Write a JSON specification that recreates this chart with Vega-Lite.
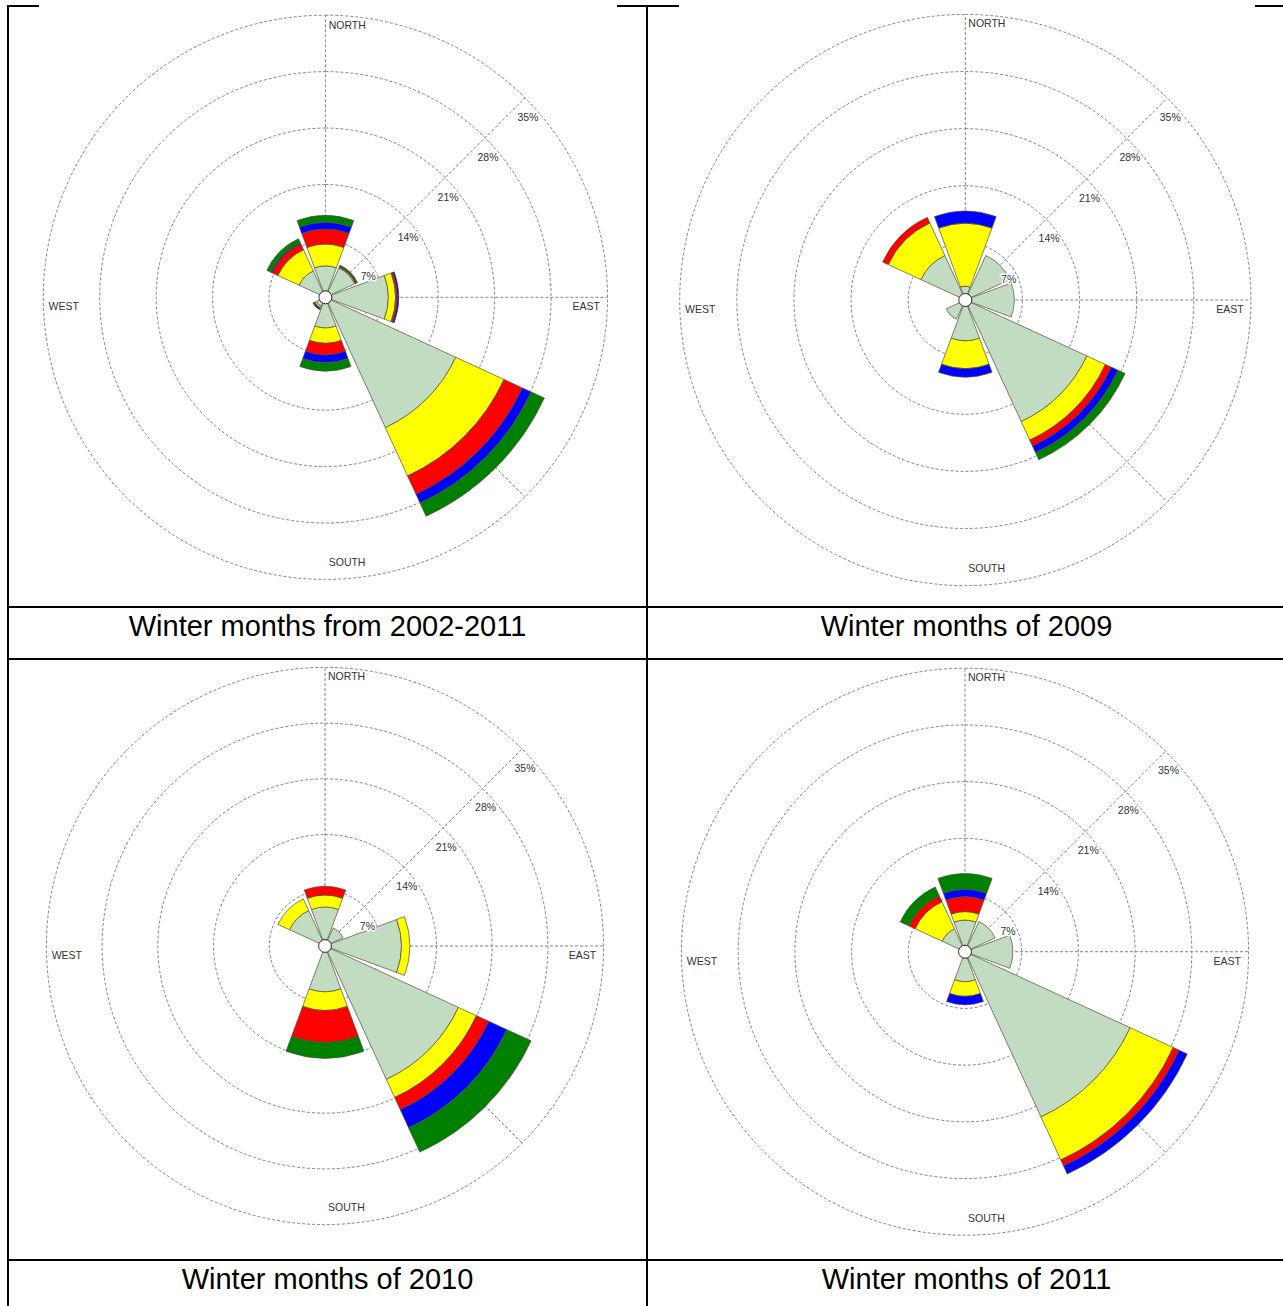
{
"$schema":"https://vega.github.io/schema/vega-lite/v6.json",
"background":"white",
"padding":{"left":7,"top":5,"right":0,"bottom":0},
"bounds":"flush",
"spacing":0,
"columns":2,
"config":{"font":"Liberation Sans","view":{"stroke":"black","strokeWidth":2}},
"datasets":{
"dirs":[{"dir":0,"a0":-20.3,"a1":20.3},{"dir":45,"a0":24.7,"a1":65.3},{"dir":90,"a0":69.7,"a1":110.3},{"dir":135,"a0":114.7,"a1":155.3},{"dir":180,"a0":159.7,"a1":200.3},{"dir":225,"a0":204.7,"a1":245.3},{"dir":270,"a0":249.7,"a1":290.3},{"dir":315,"a0":294.7,"a1":335.3}],
"rings":[{"ring":7,"label":"7%"},{"ring":14,"label":"14%"},{"ring":21,"label":"21%"},{"ring":28,"label":"28%"},{"ring":35,"label":"35%"}],
"spokes":[{"x1":-35,"y1":0,"x2":35,"y2":0},{"x1":0,"y1":-35,"x2":0,"y2":35},{"x1":-24.75,"y1":-24.75,"x2":24.75,"y2":24.75},{"x1":-24.75,"y1":24.75,"x2":24.75,"y2":-24.75}],
"petals":[
{"rose":1,"dir":0,"spd":"s1","r0":0.8,"r1":3.9},{"rose":1,"dir":0,"spd":"s2","r0":3.9,"r1":6.6},{"rose":1,"dir":0,"spd":"s3","r0":6.6,"r1":8.45},{"rose":1,"dir":0,"spd":"s4","r0":8.45,"r1":9.3},{"rose":1,"dir":0,"spd":"s5","r0":9.3,"r1":10.15},
{"rose":1,"dir":45,"spd":"s1","r0":0.8,"r1":4.0},{"rose":1,"dir":45,"spd":"s2","r0":4.0,"r1":4.12},{"rose":1,"dir":45,"spd":"s3","r0":4.12,"r1":4.22},{"rose":1,"dir":45,"spd":"s4","r0":4.22,"r1":4.3},{"rose":1,"dir":45,"spd":"s5","r0":4.3,"r1":4.38},
{"rose":1,"dir":90,"spd":"s1","r0":0.8,"r1":7.8},{"rose":1,"dir":90,"spd":"s2","r0":7.8,"r1":8.7},{"rose":1,"dir":90,"spd":"s3","r0":8.7,"r1":8.9},{"rose":1,"dir":90,"spd":"s4","r0":8.9,"r1":9.1},
{"rose":1,"dir":135,"spd":"s1","r0":0.8,"r1":17.8},{"rose":1,"dir":135,"spd":"s2","r0":17.8,"r1":24.4},{"rose":1,"dir":135,"spd":"s3","r0":24.4,"r1":26.9},{"rose":1,"dir":135,"spd":"s4","r0":26.9,"r1":28.1},{"rose":1,"dir":135,"spd":"s5","r0":28.1,"r1":29.9},
{"rose":1,"dir":180,"spd":"s1","r0":0.8,"r1":3.8},{"rose":1,"dir":180,"spd":"s2","r0":3.8,"r1":5.7},{"rose":1,"dir":180,"spd":"s3","r0":5.7,"r1":7.15},{"rose":1,"dir":180,"spd":"s4","r0":7.15,"r1":8.1},{"rose":1,"dir":180,"spd":"s5","r0":8.1,"r1":9.15},
{"rose":1,"dir":225,"spd":"s1","r0":0.8,"r1":1.25},{"rose":1,"dir":225,"spd":"s2","r0":1.25,"r1":1.45},{"rose":1,"dir":225,"spd":"s3","r0":1.45,"r1":1.55},{"rose":1,"dir":225,"spd":"s4","r0":1.55,"r1":1.7},
{"rose":1,"dir":315,"spd":"s1","r0":0.8,"r1":3.6},{"rose":1,"dir":315,"spd":"s2","r0":3.6,"r1":6.5},{"rose":1,"dir":315,"spd":"s3","r0":6.5,"r1":7.3},{"rose":1,"dir":315,"spd":"s4","r0":7.3,"r1":7.45},{"rose":1,"dir":315,"spd":"s5","r0":7.45,"r1":8.0},
{"rose":2,"dir":0,"spd":"s1","r0":0.8,"r1":1.7},{"rose":2,"dir":0,"spd":"s2","r0":1.7,"r1":9.4},{"rose":2,"dir":0,"spd":"s4","r0":9.4,"r1":10.9},
{"rose":2,"dir":45,"spd":"s1","r0":0.8,"r1":6.0},
{"rose":2,"dir":90,"spd":"s1","r0":0.8,"r1":6.0},
{"rose":2,"dir":135,"spd":"s1","r0":0.8,"r1":16.4},{"rose":2,"dir":135,"spd":"s2","r0":16.4,"r1":18.9},{"rose":2,"dir":135,"spd":"s3","r0":18.9,"r1":19.7},{"rose":2,"dir":135,"spd":"s4","r0":19.7,"r1":20.6},{"rose":2,"dir":135,"spd":"s5","r0":20.6,"r1":21.55},
{"rose":2,"dir":180,"spd":"s1","r0":0.8,"r1":5.0},{"rose":2,"dir":180,"spd":"s2","r0":5.0,"r1":8.4},{"rose":2,"dir":180,"spd":"s4","r0":8.4,"r1":9.45},
{"rose":2,"dir":225,"spd":"s1","r0":0.8,"r1":2.6},
{"rose":2,"dir":315,"spd":"s1","r0":0.8,"r1":6.0},{"rose":2,"dir":315,"spd":"s2","r0":6.0,"r1":10.4},{"rose":2,"dir":315,"spd":"s3","r0":10.4,"r1":11.15},
{"rose":3,"dir":0,"spd":"s1","r0":0.8,"r1":4.9},{"rose":3,"dir":0,"spd":"s2","r0":4.9,"r1":6.4},{"rose":3,"dir":0,"spd":"s3","r0":6.4,"r1":7.5},
{"rose":3,"dir":45,"spd":"s1","r0":0.8,"r1":2.5},
{"rose":3,"dir":90,"spd":"s1","r0":0.8,"r1":9.6},{"rose":3,"dir":90,"spd":"s2","r0":9.6,"r1":10.65},
{"rose":3,"dir":135,"spd":"s1","r0":0.8,"r1":18.45},{"rose":3,"dir":135,"spd":"s2","r0":18.45,"r1":20.95},{"rose":3,"dir":135,"spd":"s3","r0":20.95,"r1":22.65},{"rose":3,"dir":135,"spd":"s4","r0":22.65,"r1":25.15},{"rose":3,"dir":135,"spd":"s5","r0":25.15,"r1":28.5},
{"rose":3,"dir":180,"spd":"s1","r0":0.8,"r1":5.75},{"rose":3,"dir":180,"spd":"s2","r0":5.75,"r1":8.1},{"rose":3,"dir":180,"spd":"s3","r0":8.1,"r1":12.1},{"rose":3,"dir":180,"spd":"s5","r0":12.1,"r1":14.1},
{"rose":3,"dir":315,"spd":"s1","r0":0.8,"r1":4.9},{"rose":3,"dir":315,"spd":"s2","r0":4.9,"r1":6.5},
{"rose":4,"dir":0,"spd":"s1","r0":0.8,"r1":3.9},{"rose":4,"dir":0,"spd":"s2","r0":3.9,"r1":4.95},{"rose":4,"dir":0,"spd":"s3","r0":4.95,"r1":6.8},{"rose":4,"dir":0,"spd":"s4","r0":6.8,"r1":7.7},{"rose":4,"dir":0,"spd":"s5","r0":7.7,"r1":9.65},
{"rose":4,"dir":45,"spd":"s1","r0":0.8,"r1":4.1},
{"rose":4,"dir":90,"spd":"s1","r0":0.8,"r1":5.9},
{"rose":4,"dir":135,"spd":"s1","r0":0.8,"r1":22.45},{"rose":4,"dir":135,"spd":"s2","r0":22.45,"r1":28.3},{"rose":4,"dir":135,"spd":"s3","r0":28.3,"r1":29.1},{"rose":4,"dir":135,"spd":"s4","r0":29.1,"r1":30.2},
{"rose":4,"dir":180,"spd":"s1","r0":0.8,"r1":3.7},{"rose":4,"dir":180,"spd":"s2","r0":3.7,"r1":5.5},{"rose":4,"dir":180,"spd":"s4","r0":5.5,"r1":6.55},
{"rose":4,"dir":315,"spd":"s1","r0":0.8,"r1":3.1},{"rose":4,"dir":315,"spd":"s2","r0":3.1,"r1":6.8},{"rose":4,"dir":315,"spd":"s3","r0":6.8,"r1":7.6},{"rose":4,"dir":315,"spd":"s5","r0":7.6,"r1":8.8}
]
},
"concat":[
{"width":639,"height":601,
"view":{"stroke":"black","strokeWidth":2,"strokeDash":[31,578,1871]},
"encoding":{"x":{"datum":0,"type":"quantitative","scale":{"domain":[-39.38,39.9],"nice":false,"zero":false},"axis":null},
"y":{"datum":0,"type":"quantitative","scale":{"domain":[-38.42,36.14],"nice":false,"zero":false},"axis":null}},
"layer":[
{"data":{"name":"rings"},"mark":{"type":"arc","filled":false,"stroke":"#80809a","strokeWidth":1,"strokeDash":[3,2]},
"encoding":{"theta":{"datum":0,"type":"quantitative","scale":{"domain":[0,360]}},"theta2":{"datum":360},"radius":{"field":"ring","type":"quantitative","stack":null,"scale":{"type":"linear","domain":[0,35],"range":[0,282.1],"nice":false,"zero":true}}}},
{"data":{"name":"spokes"},"mark":{"type":"rule","stroke":"#80809a","strokeWidth":1,"strokeDash":[3,2]},
"encoding":{"x":{"field":"x1","type":"quantitative","scale":{"domain":[-39.38,39.9],"nice":false,"zero":false},"axis":null},"y":{"field":"y1","type":"quantitative","scale":{"domain":[-38.42,36.14],"nice":false,"zero":false},"axis":null},"x2":{"field":"x2"},"y2":{"field":"y2"}}},
{"data":{"name":"petals"},"transform":[{"filter":"datum.rose === 1"},{"lookup":"dir","from":{"data":{"name":"dirs"},"key":"dir","fields":["a0","a1"]}}],
"mark":{"type":"arc","stroke":"#4f4f38","strokeWidth":0.7},
"encoding":{"theta":{"field":"a0","type":"quantitative","stack":null,"scale":{"domain":[0,360]}},"theta2":{"field":"a1"},"radius":{"field":"r1","type":"quantitative","stack":null,"scale":{"type":"linear","domain":[0,35],"range":[0,282.1],"nice":false,"zero":true}},"radius2":{"field":"r0"},
"color":{"field":"spd","type":"nominal","scale":{"domain":["s1","s2","s3","s4","s5"],"range":["#c1dcc1","#ffff00","#ff0000","#0000ff","#008000"]},"legend":null}}},
{"data":{"values":[{}]},"mark":{"type":"arc","fill":"white","stroke":"#333333","strokeWidth":1},
"encoding":{"theta":{"datum":0,"type":"quantitative","scale":{"domain":[0,360]}},"theta2":{"datum":360},"radius":{"datum":0.8,"type":"quantitative","scale":{"type":"linear","domain":[0,35],"range":[0,282.1],"nice":false,"zero":true}}}},
{"data":{"name":"rings"},"mark":{"type":"text","dx":3,"dy":20,"fontSize":10.5,"stroke":"white","strokeWidth":3,"strokeJoin":"round"},
"encoding":{"theta":{"datum":45,"type":"quantitative","scale":{"domain":[0,360]}},"radius":{"field":"ring","type":"quantitative","stack":null,"scale":{"type":"linear","domain":[0,35],"range":[0,282.1],"nice":false,"zero":true}},"text":{"field":"label"}}},
{"data":{"name":"rings"},"mark":{"type":"text","dx":3,"dy":20,"fontSize":10.5,"fill":"#333333"},
"encoding":{"theta":{"datum":45,"type":"quantitative","scale":{"domain":[0,360]}},"radius":{"field":"ring","type":"quantitative","stack":null,"scale":{"type":"linear","domain":[0,35],"range":[0,282.1],"nice":false,"zero":true}},"text":{"field":"label"}}},
{"data":{"values":[{"t":"NORTH","d":0}]},"mark":{"type":"text","align":"left","dx":3.3,"dy":10.5,"fontSize":10.5,"fill":"#333333"},
"encoding":{"theta":{"field":"d","type":"quantitative","stack":null,"scale":{"domain":[0,360]}},"radius":{"datum":35,"type":"quantitative","scale":{"type":"linear","domain":[0,35],"range":[0,282.1],"nice":false,"zero":true}},"text":{"field":"t"}}},
{"data":{"values":[{"t":"SOUTH","d":180}]},"mark":{"type":"text","align":"left","dx":3.3,"dy":-16,"fontSize":10.5,"fill":"#333333"},
"encoding":{"theta":{"field":"d","type":"quantitative","stack":null,"scale":{"domain":[0,360]}},"radius":{"datum":35,"type":"quantitative","scale":{"type":"linear","domain":[0,35],"range":[0,282.1],"nice":false,"zero":true}},"text":{"field":"t"}}},
{"data":{"values":[{"t":"WEST","d":270}]},"mark":{"type":"text","align":"left","dx":5.3,"dy":10,"fontSize":10.5,"fill":"#333333"},
"encoding":{"theta":{"field":"d","type":"quantitative","stack":null,"scale":{"domain":[0,360]}},"radius":{"datum":35,"type":"quantitative","scale":{"type":"linear","domain":[0,35],"range":[0,282.1],"nice":false,"zero":true}},"text":{"field":"t"}}},
{"data":{"values":[{"t":"EAST","d":90}]},"mark":{"type":"text","align":"right","dx":-7.5,"dy":10,"fontSize":10.5,"fill":"#333333"},
"encoding":{"theta":{"field":"d","type":"quantitative","stack":null,"scale":{"domain":[0,360]}},"radius":{"datum":35,"type":"quantitative","scale":{"type":"linear","domain":[0,35],"range":[0,282.1],"nice":false,"zero":true}},"text":{"field":"t"}}}
]},
{"width":639,"height":601,
"view":{"stroke":"black","strokeWidth":2,"strokeDash":[32,576,1872]},
"encoding":{"x":{"datum":0,"type":"quantitative","scale":{"domain":[-39.01,39.3],"nice":false,"zero":false},"axis":null},
"y":{"datum":0,"type":"quantitative","scale":{"domain":[-37.62,36.03],"nice":false,"zero":false},"axis":null}},
"layer":[
{"data":{"name":"rings"},"mark":{"type":"arc","filled":false,"stroke":"#80809a","strokeWidth":1,"strokeDash":[3,2]},
"encoding":{"theta":{"datum":0,"type":"quantitative","scale":{"domain":[0,360]}},"theta2":{"datum":360},"radius":{"field":"ring","type":"quantitative","stack":null,"scale":{"type":"linear","domain":[0,35],"range":[0,285.6],"nice":false,"zero":true}}}},
{"data":{"name":"spokes"},"mark":{"type":"rule","stroke":"#80809a","strokeWidth":1,"strokeDash":[3,2]},
"encoding":{"x":{"field":"x1","type":"quantitative","scale":{"domain":[-39.01,39.3],"nice":false,"zero":false},"axis":null},"y":{"field":"y1","type":"quantitative","scale":{"domain":[-37.62,36.03],"nice":false,"zero":false},"axis":null},"x2":{"field":"x2"},"y2":{"field":"y2"}}},
{"data":{"name":"petals"},"transform":[{"filter":"datum.rose === 2"},{"lookup":"dir","from":{"data":{"name":"dirs"},"key":"dir","fields":["a0","a1"]}}],
"mark":{"type":"arc","stroke":"#4f4f38","strokeWidth":0.7},
"encoding":{"theta":{"field":"a0","type":"quantitative","stack":null,"scale":{"domain":[0,360]}},"theta2":{"field":"a1"},"radius":{"field":"r1","type":"quantitative","stack":null,"scale":{"type":"linear","domain":[0,35],"range":[0,285.6],"nice":false,"zero":true}},"radius2":{"field":"r0"},
"color":{"field":"spd","type":"nominal","scale":{"domain":["s1","s2","s3","s4","s5"],"range":["#c1dcc1","#ffff00","#ff0000","#0000ff","#008000"]},"legend":null}}},
{"data":{"values":[{}]},"mark":{"type":"arc","fill":"white","stroke":"#333333","strokeWidth":1},
"encoding":{"theta":{"datum":0,"type":"quantitative","scale":{"domain":[0,360]}},"theta2":{"datum":360},"radius":{"datum":0.8,"type":"quantitative","scale":{"type":"linear","domain":[0,35],"range":[0,285.6],"nice":false,"zero":true}}}},
{"data":{"name":"rings"},"mark":{"type":"text","dx":3,"dy":20,"fontSize":10.5,"stroke":"white","strokeWidth":3,"strokeJoin":"round"},
"encoding":{"theta":{"datum":45,"type":"quantitative","scale":{"domain":[0,360]}},"radius":{"field":"ring","type":"quantitative","stack":null,"scale":{"type":"linear","domain":[0,35],"range":[0,285.6],"nice":false,"zero":true}},"text":{"field":"label"}}},
{"data":{"name":"rings"},"mark":{"type":"text","dx":3,"dy":20,"fontSize":10.5,"fill":"#333333"},
"encoding":{"theta":{"datum":45,"type":"quantitative","scale":{"domain":[0,360]}},"radius":{"field":"ring","type":"quantitative","stack":null,"scale":{"type":"linear","domain":[0,35],"range":[0,285.6],"nice":false,"zero":true}},"text":{"field":"label"}}},
{"data":{"values":[{"t":"NORTH","d":0}]},"mark":{"type":"text","align":"left","dx":3,"dy":10,"fontSize":10.5,"fill":"#333333"},
"encoding":{"theta":{"field":"d","type":"quantitative","stack":null,"scale":{"domain":[0,360]}},"radius":{"datum":35,"type":"quantitative","scale":{"type":"linear","domain":[0,35],"range":[0,285.6],"nice":false,"zero":true}},"text":{"field":"t"}}},
{"data":{"values":[{"t":"SOUTH","d":180}]},"mark":{"type":"text","align":"left","dx":3,"dy":-16.6,"fontSize":10.5,"fill":"#333333"},
"encoding":{"theta":{"field":"d","type":"quantitative","stack":null,"scale":{"domain":[0,360]}},"radius":{"datum":35,"type":"quantitative","scale":{"type":"linear","domain":[0,35],"range":[0,285.6],"nice":false,"zero":true}},"text":{"field":"t"}}},
{"data":{"values":[{"t":"WEST","d":270}]},"mark":{"type":"text","align":"left","dx":5.4,"dy":10.2,"fontSize":10.5,"fill":"#333333"},
"encoding":{"theta":{"field":"d","type":"quantitative","stack":null,"scale":{"domain":[0,360]}},"radius":{"datum":35,"type":"quantitative","scale":{"type":"linear","domain":[0,35],"range":[0,285.6],"nice":false,"zero":true}},"text":{"field":"t"}}},
{"data":{"values":[{"t":"EAST","d":90}]},"mark":{"type":"text","align":"right","dx":-7.3,"dy":10.2,"fontSize":10.5,"fill":"#333333"},
"encoding":{"theta":{"field":"d","type":"quantitative","stack":null,"scale":{"domain":[0,360]}},"radius":{"datum":35,"type":"quantitative","scale":{"type":"linear","domain":[0,35],"range":[0,285.6],"nice":false,"zero":true}},"text":{"field":"t"}}}
]},
{"width":639,"height":52,"data":{"values":[{"caption":"Winter months from 2002-2011"}]},"mark":{"type":"text","fontSize":29,"fill":"black","dy":-6},
"encoding":{"x":{"datum":0,"type":"quantitative","scale":{"domain":[-1,1]},"axis":null},"y":{"datum":0,"type":"quantitative","scale":{"domain":[-1,1]},"axis":null},"text":{"field":"caption","type":"nominal"}}},
{"width":639,"height":52,"data":{"values":[{"caption":"Winter months of 2009"}]},"mark":{"type":"text","fontSize":29,"fill":"black","dy":-6},
"encoding":{"x":{"datum":0,"type":"quantitative","scale":{"domain":[-1,1]},"axis":null},"y":{"datum":0,"type":"quantitative","scale":{"domain":[-1,1]},"axis":null},"text":{"field":"caption","type":"nominal"}}},
{"width":639,"height":601,
"encoding":{"x":{"datum":0,"type":"quantitative","scale":{"domain":[-39.82,40.45],"nice":false,"zero":false},"axis":null},
"y":{"datum":0,"type":"quantitative","scale":{"domain":[-39.45,36.06],"nice":false,"zero":false},"axis":null}},
"layer":[
{"data":{"name":"rings"},"mark":{"type":"arc","filled":false,"stroke":"#80809a","strokeWidth":1,"strokeDash":[3,2]},
"encoding":{"theta":{"datum":0,"type":"quantitative","scale":{"domain":[0,360]}},"theta2":{"datum":360},"radius":{"field":"ring","type":"quantitative","stack":null,"scale":{"type":"linear","domain":[0,35],"range":[0,278.6],"nice":false,"zero":true}}}},
{"data":{"name":"spokes"},"mark":{"type":"rule","stroke":"#80809a","strokeWidth":1,"strokeDash":[3,2]},
"encoding":{"x":{"field":"x1","type":"quantitative","scale":{"domain":[-39.82,40.45],"nice":false,"zero":false},"axis":null},"y":{"field":"y1","type":"quantitative","scale":{"domain":[-39.45,36.06],"nice":false,"zero":false},"axis":null},"x2":{"field":"x2"},"y2":{"field":"y2"}}},
{"data":{"name":"petals"},"transform":[{"filter":"datum.rose === 3"},{"lookup":"dir","from":{"data":{"name":"dirs"},"key":"dir","fields":["a0","a1"]}}],
"mark":{"type":"arc","stroke":"#4f4f38","strokeWidth":0.7},
"encoding":{"theta":{"field":"a0","type":"quantitative","stack":null,"scale":{"domain":[0,360]}},"theta2":{"field":"a1"},"radius":{"field":"r1","type":"quantitative","stack":null,"scale":{"type":"linear","domain":[0,35],"range":[0,278.6],"nice":false,"zero":true}},"radius2":{"field":"r0"},
"color":{"field":"spd","type":"nominal","scale":{"domain":["s1","s2","s3","s4","s5"],"range":["#c1dcc1","#ffff00","#ff0000","#0000ff","#008000"]},"legend":null}}},
{"data":{"values":[{}]},"mark":{"type":"arc","fill":"white","stroke":"#333333","strokeWidth":1},
"encoding":{"theta":{"datum":0,"type":"quantitative","scale":{"domain":[0,360]}},"theta2":{"datum":360},"radius":{"datum":0.8,"type":"quantitative","scale":{"type":"linear","domain":[0,35],"range":[0,278.6],"nice":false,"zero":true}}}},
{"data":{"name":"rings"},"mark":{"type":"text","dx":3,"dy":20,"fontSize":10.5,"stroke":"white","strokeWidth":3,"strokeJoin":"round"},
"encoding":{"theta":{"datum":45,"type":"quantitative","scale":{"domain":[0,360]}},"radius":{"field":"ring","type":"quantitative","stack":null,"scale":{"type":"linear","domain":[0,35],"range":[0,278.6],"nice":false,"zero":true}},"text":{"field":"label"}}},
{"data":{"name":"rings"},"mark":{"type":"text","dx":3,"dy":20,"fontSize":10.5,"fill":"#333333"},
"encoding":{"theta":{"datum":45,"type":"quantitative","scale":{"domain":[0,360]}},"radius":{"field":"ring","type":"quantitative","stack":null,"scale":{"type":"linear","domain":[0,35],"range":[0,278.6],"nice":false,"zero":true}},"text":{"field":"label"}}},
{"data":{"values":[{"t":"NORTH","d":0}]},"mark":{"type":"text","align":"left","dx":3,"dy":10,"fontSize":10.5,"fill":"#333333"},
"encoding":{"theta":{"field":"d","type":"quantitative","stack":null,"scale":{"domain":[0,360]}},"radius":{"datum":35,"type":"quantitative","scale":{"type":"linear","domain":[0,35],"range":[0,278.6],"nice":false,"zero":true}},"text":{"field":"t"}}},
{"data":{"values":[{"t":"SOUTH","d":180}]},"mark":{"type":"text","align":"left","dx":3,"dy":-16.6,"fontSize":10.5,"fill":"#333333"},
"encoding":{"theta":{"field":"d","type":"quantitative","stack":null,"scale":{"domain":[0,360]}},"radius":{"datum":35,"type":"quantitative","scale":{"type":"linear","domain":[0,35],"range":[0,278.6],"nice":false,"zero":true}},"text":{"field":"t"}}},
{"data":{"values":[{"t":"WEST","d":270}]},"mark":{"type":"text","align":"left","dx":5.3,"dy":10,"fontSize":10.5,"fill":"#333333"},
"encoding":{"theta":{"field":"d","type":"quantitative","stack":null,"scale":{"domain":[0,360]}},"radius":{"datum":35,"type":"quantitative","scale":{"type":"linear","domain":[0,35],"range":[0,278.6],"nice":false,"zero":true}},"text":{"field":"t"}}},
{"data":{"values":[{"t":"EAST","d":90}]},"mark":{"type":"text","align":"right","dx":-7.5,"dy":10,"fontSize":10.5,"fill":"#333333"},
"encoding":{"theta":{"field":"d","type":"quantitative","stack":null,"scale":{"domain":[0,360]}},"radius":{"datum":35,"type":"quantitative","scale":{"type":"linear","domain":[0,35],"range":[0,278.6],"nice":false,"zero":true}},"text":{"field":"t"}}}
]},
{"width":639,"height":601,
"encoding":{"x":{"datum":0,"type":"quantitative","scale":{"domain":[-39.26,39.63],"nice":false,"zero":false},"axis":null},
"y":{"datum":0,"type":"quantitative","scale":{"domain":[-38.06,36.14],"nice":false,"zero":false},"axis":null}},
"layer":[
{"data":{"name":"rings"},"mark":{"type":"arc","filled":false,"stroke":"#80809a","strokeWidth":1,"strokeDash":[3,2]},
"encoding":{"theta":{"datum":0,"type":"quantitative","scale":{"domain":[0,360]}},"theta2":{"datum":360},"radius":{"field":"ring","type":"quantitative","stack":null,"scale":{"type":"linear","domain":[0,35],"range":[0,283.5],"nice":false,"zero":true}}}},
{"data":{"name":"spokes"},"mark":{"type":"rule","stroke":"#80809a","strokeWidth":1,"strokeDash":[3,2]},
"encoding":{"x":{"field":"x1","type":"quantitative","scale":{"domain":[-39.26,39.63],"nice":false,"zero":false},"axis":null},"y":{"field":"y1","type":"quantitative","scale":{"domain":[-38.06,36.14],"nice":false,"zero":false},"axis":null},"x2":{"field":"x2"},"y2":{"field":"y2"}}},
{"data":{"name":"petals"},"transform":[{"filter":"datum.rose === 4"},{"lookup":"dir","from":{"data":{"name":"dirs"},"key":"dir","fields":["a0","a1"]}}],
"mark":{"type":"arc","stroke":"#4f4f38","strokeWidth":0.7},
"encoding":{"theta":{"field":"a0","type":"quantitative","stack":null,"scale":{"domain":[0,360]}},"theta2":{"field":"a1"},"radius":{"field":"r1","type":"quantitative","stack":null,"scale":{"type":"linear","domain":[0,35],"range":[0,283.5],"nice":false,"zero":true}},"radius2":{"field":"r0"},
"color":{"field":"spd","type":"nominal","scale":{"domain":["s1","s2","s3","s4","s5"],"range":["#c1dcc1","#ffff00","#ff0000","#0000ff","#008000"]},"legend":null}}},
{"data":{"values":[{}]},"mark":{"type":"arc","fill":"white","stroke":"#333333","strokeWidth":1},
"encoding":{"theta":{"datum":0,"type":"quantitative","scale":{"domain":[0,360]}},"theta2":{"datum":360},"radius":{"datum":0.8,"type":"quantitative","scale":{"type":"linear","domain":[0,35],"range":[0,283.5],"nice":false,"zero":true}}}},
{"data":{"name":"rings"},"mark":{"type":"text","dx":3,"dy":20,"fontSize":10.5,"stroke":"white","strokeWidth":3,"strokeJoin":"round"},
"encoding":{"theta":{"datum":45,"type":"quantitative","scale":{"domain":[0,360]}},"radius":{"field":"ring","type":"quantitative","stack":null,"scale":{"type":"linear","domain":[0,35],"range":[0,283.5],"nice":false,"zero":true}},"text":{"field":"label"}}},
{"data":{"name":"rings"},"mark":{"type":"text","dx":3,"dy":20,"fontSize":10.5,"fill":"#333333"},
"encoding":{"theta":{"datum":45,"type":"quantitative","scale":{"domain":[0,360]}},"radius":{"field":"ring","type":"quantitative","stack":null,"scale":{"type":"linear","domain":[0,35],"range":[0,283.5],"nice":false,"zero":true}},"text":{"field":"label"}}},
{"data":{"values":[{"t":"NORTH","d":0}]},"mark":{"type":"text","align":"left","dx":3,"dy":10,"fontSize":10.5,"fill":"#333333"},
"encoding":{"theta":{"field":"d","type":"quantitative","stack":null,"scale":{"domain":[0,360]}},"radius":{"datum":35,"type":"quantitative","scale":{"type":"linear","domain":[0,35],"range":[0,283.5],"nice":false,"zero":true}},"text":{"field":"t"}}},
{"data":{"values":[{"t":"SOUTH","d":180}]},"mark":{"type":"text","align":"left","dx":3,"dy":-16.6,"fontSize":10.5,"fill":"#333333"},
"encoding":{"theta":{"field":"d","type":"quantitative","stack":null,"scale":{"domain":[0,360]}},"radius":{"datum":35,"type":"quantitative","scale":{"type":"linear","domain":[0,35],"range":[0,283.5],"nice":false,"zero":true}},"text":{"field":"t"}}},
{"data":{"values":[{"t":"WEST","d":270}]},"mark":{"type":"text","align":"left","dx":5.3,"dy":10,"fontSize":10.5,"fill":"#333333"},
"encoding":{"theta":{"field":"d","type":"quantitative","stack":null,"scale":{"domain":[0,360]}},"radius":{"datum":35,"type":"quantitative","scale":{"type":"linear","domain":[0,35],"range":[0,283.5],"nice":false,"zero":true}},"text":{"field":"t"}}},
{"data":{"values":[{"t":"EAST","d":90}]},"mark":{"type":"text","align":"right","dx":-7.5,"dy":10,"fontSize":10.5,"fill":"#333333"},
"encoding":{"theta":{"field":"d","type":"quantitative","stack":null,"scale":{"domain":[0,360]}},"radius":{"datum":35,"type":"quantitative","scale":{"type":"linear","domain":[0,35],"range":[0,283.5],"nice":false,"zero":true}},"text":{"field":"t"}}}
]},
{"width":639,"height":52,"data":{"values":[{"caption":"Winter months of 2010"}]},"mark":{"type":"text","fontSize":29,"fill":"black","dy":-6},
"encoding":{"x":{"datum":0,"type":"quantitative","scale":{"domain":[-1,1]},"axis":null},"y":{"datum":0,"type":"quantitative","scale":{"domain":[-1,1]},"axis":null},"text":{"field":"caption","type":"nominal"}}},
{"width":639,"height":52,"data":{"values":[{"caption":"Winter months of 2011"}]},"mark":{"type":"text","fontSize":29,"fill":"black","dy":-6},
"encoding":{"x":{"datum":0,"type":"quantitative","scale":{"domain":[-1,1]},"axis":null},"y":{"datum":0,"type":"quantitative","scale":{"domain":[-1,1]},"axis":null},"text":{"field":"caption","type":"nominal"}}}
]
}
